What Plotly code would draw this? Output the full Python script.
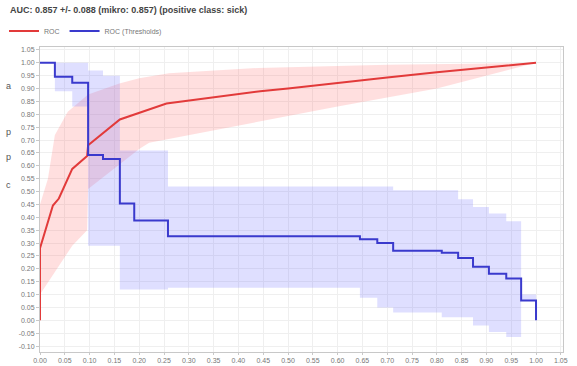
import plotly.graph_objects as go

# ROC mean curve (FPR, TPR)
roc_x = [0.0, 0.0, 0.026, 0.038, 0.065, 0.095, 0.097, 0.161, 0.255, 0.35, 0.444, 0.5, 0.6, 0.7, 0.8, 0.9, 1.0]
roc_y = [0.0, 0.28, 0.446, 0.473, 0.588, 0.638, 0.68, 0.78, 0.842, 0.865, 0.89, 0.90, 0.922, 0.943, 0.963, 0.981, 1.0]

# ROC band (+/- std)
roc_hi_x = [0.0, 0.016, 0.03, 0.056, 0.097, 0.16, 0.2, 0.26, 0.44, 0.7, 1.0]
roc_hi_y = [0.45, 0.55, 0.72, 0.81, 0.877, 0.92, 0.94, 0.96, 0.98, 0.993, 1.0]
roc_lo_x = [0.0, 0.065, 0.095, 0.097, 0.2, 0.22, 0.44, 0.6, 0.8, 1.0]
roc_lo_y = [0.10, 0.29, 0.35, 0.51, 0.665, 0.69, 0.77, 0.83, 0.90, 1.0]

# ROC (Thresholds) step curve and band
thr_x = [0.0, 0.03, 0.065, 0.097, 0.127, 0.161, 0.19, 0.258, 0.645, 0.68, 0.712, 0.81, 0.843, 0.873, 0.905, 0.94, 0.97, 1.0]
thr_y = [1.0, 0.946, 0.923, 0.642, 0.627, 0.454, 0.388, 0.327, 0.315, 0.30, 0.27, 0.262, 0.242, 0.208, 0.181, 0.162, 0.077, 0.0]
thr_hi = [1.0, 1.0, 1.0, 0.97, 0.95, 0.66, 0.66, 0.52, 0.52, 0.52, 0.505, 0.505, 0.47, 0.44, 0.415, 0.385, 0.10, 0.0]
thr_lo = [1.0, 0.89, 0.83, 0.29, 0.29, 0.12, 0.12, 0.127, 0.088, 0.05, 0.03, 0.012, 0.012, -0.02, -0.045, -0.065, 0.077, 0.0]

x_ticks = [round(i * 0.05, 2) for i in range(22)]
y_ticks = [round(-0.10 + i * 0.05, 2) for i in range(24)]

title_text = "AUC: 0.857 +/- 0.088 (mikro: 0.857) (positive class: sick)"
side_letters = ["a", "p", "p", "c"]
side_letter_y = [0.91, 0.73, 0.635, 0.525]

RED = "rgb(226,58,58)"
BLUE = "rgb(58,58,205)"

fig = go.Figure()

# pink band polygon
fig.add_trace(go.Scatter(
    x=roc_hi_x + roc_lo_x[::-1], y=roc_hi_y + roc_lo_y[::-1],
    fill="toself", fillcolor="rgba(255,110,110,0.22)", line=dict(width=0),
    mode="lines", showlegend=False, hoverinfo="skip"))

# blue band
fig.add_trace(go.Scatter(x=thr_x, y=thr_lo, mode="lines", line=dict(width=0, shape="hv"),
                         showlegend=False, hoverinfo="skip"))
fig.add_trace(go.Scatter(x=thr_x, y=thr_hi, mode="lines", line=dict(width=0, shape="hv"),
                         fill="tonexty", fillcolor="rgba(110,110,255,0.22)",
                         showlegend=False, hoverinfo="skip"))

fig.add_trace(go.Scatter(x=roc_x, y=roc_y, mode="lines", name="ROC",
                         line=dict(color=RED, width=2)))
fig.add_trace(go.Scatter(x=thr_x, y=thr_y, mode="lines", name="ROC (Thresholds)",
                         line=dict(color=BLUE, width=2, shape="hv")))

W, H = 577, 366
L, R, T, B = 40, 14, 47, 14
pw = W - L - R
ph = H - T - B

for t, yy in zip(side_letters, side_letter_y):
    fig.add_annotation(text=t, xref="paper", yref="y", x=(8 - L) / pw, y=yy,
                       showarrow=False, font=dict(size=9, color="#555"), xanchor="center")

fig.update_layout(
    width=W, height=H,
    margin=dict(l=L, r=R, t=T, b=B, autoexpand=False),
    paper_bgcolor="white", plot_bgcolor="white",
    font=dict(family="Liberation Sans, Arial, sans-serif", size=7, color="#777"),
    title=dict(text="<b>" + title_text + "</b>", xref="container", yref="container",
               x=10 / W, y=1 - 10 / H, xanchor="left", yanchor="middle",
               font=dict(size=9, color="#444")),
    legend=dict(orientation="h", x=(4 - L) / pw, y=1 + (47 - 31) / ph,
                xanchor="left", yanchor="middle", font=dict(size=7, color="#777"),
                itemwidth=30, bgcolor="rgba(0,0,0,0)", tracegroupgap=0,
                traceorder="normal"),
    xaxis=dict(range=[0, 1.0544], tickvals=x_ticks, ticktext=[f"{v:.2f}" for v in x_ticks],
               showgrid=True, gridcolor="#efefef", gridwidth=1, zeroline=False,
               showline=True, linecolor="#c8c8c8", linewidth=1, mirror=True,
               ticks="outside", ticklen=2, tickcolor="#c8c8c8", automargin=False,
               tickfont=dict(size=7, color="#777")),
    yaxis=dict(range=[-0.123, 1.0615], tickvals=y_ticks, ticktext=[f"{v:.2f}" for v in y_ticks],
               showgrid=True, gridcolor="#efefef", gridwidth=1, zeroline=False,
               showline=True, linecolor="#c8c8c8", linewidth=1, mirror=True,
               ticks="outside", ticklen=3, tickcolor="#c8c8c8", automargin=False,
               tickfont=dict(size=7, color="#777")),
)

fig.write_html("out.html")
